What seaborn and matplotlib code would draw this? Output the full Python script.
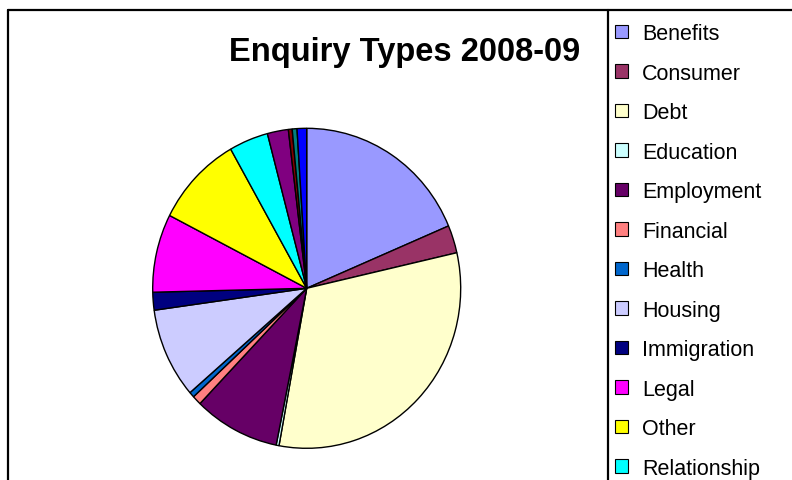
import matplotlib
matplotlib.use("Agg")
import matplotlib.pyplot as plt
import seaborn as sns
from matplotlib.lines import Line2D
from matplotlib.patches import Patch

# === Data ===
categories = ["Benefits", "Consumer", "Debt", "Education", "Employment",
              "Financial", "Health", "Housing", "Immigration", "Legal",
              "Other", "Relationship", "Tax", "Travel", "Utilities", "Welfare"]
shares = [18.6, 2.8, 31.4, 0.3, 9.0, 0.95, 0.55, 9.1, 1.8, 7.9,
          9.25, 4.1, 2.2, 0.4, 0.5, 1.0]
colors = ["#9999FF", "#993366", "#FFFFCC", "#CCFFFF", "#660066", "#FF8080",
          "#0066CC", "#CCCCFF", "#000080", "#FF00FF", "#FFFF00", "#00FFFF",
          "#800080", "#800000", "#008080", "#0000FF"]
title = "Enquiry Types 2008-09"

sns.set_style("white")
plt.rcParams["font.family"] = ["Liberation Sans", "DejaVu Sans"]
plt.rcParams["text.color"] = "black"
palette = sns.color_palette(colors)

W, H = 792, 481
fig = plt.figure(figsize=(W / 100, H / 100), dpi=100)

# pie axes (slightly taller than wide, like the original)
cx, cy, rx, ry = 306.7, 289.3, 154, 160
ax = fig.add_axes([(cx - rx) / W, (H - cy - ry) / H, 2 * rx / W, 2 * ry / H])
ax.pie(shares, colors=palette, startangle=90, counterclock=False,
       wedgeprops=dict(edgecolor="black", linewidth=1.0))
ax.set_aspect("auto")
ax.set_xlim(-1, 1)
ax.set_ylim(-1, 1)
ax.axis("off")

fig.text(405 / W, 1 - 53 / H, title, fontsize=23.5, fontweight="bold",
         ha="center", va="center", color="black")

# frame lines
def px_line(x0, y0, x1, y1):
    fig.add_artist(Line2D([x0 / W, x1 / W], [1 - y0 / H, 1 - y1 / H],
                          transform=fig.transFigure, color="black", lw=1.6))

px_line(8, 11, 792, 11)
px_line(8, 11, 8, 481)
px_line(608, 11, 608, 481)

# legend (runs off the bottom like the original)
handles = [Patch(facecolor=c, edgecolor="black", linewidth=0.8) for c in palette]
leg = fig.legend(handles, categories, loc="upper left",
                 bbox_to_anchor=(615 / W, 1 - 24 / H), frameon=False,
                 fontsize=15.5, handlelength=0.6, handleheight=0.6,
                 handletextpad=0.65, labelspacing=0.86, borderaxespad=0,
                 borderpad=0)
for t in leg.get_texts():
    t.set_color("black")

fig.savefig("out.png", dpi=100)
